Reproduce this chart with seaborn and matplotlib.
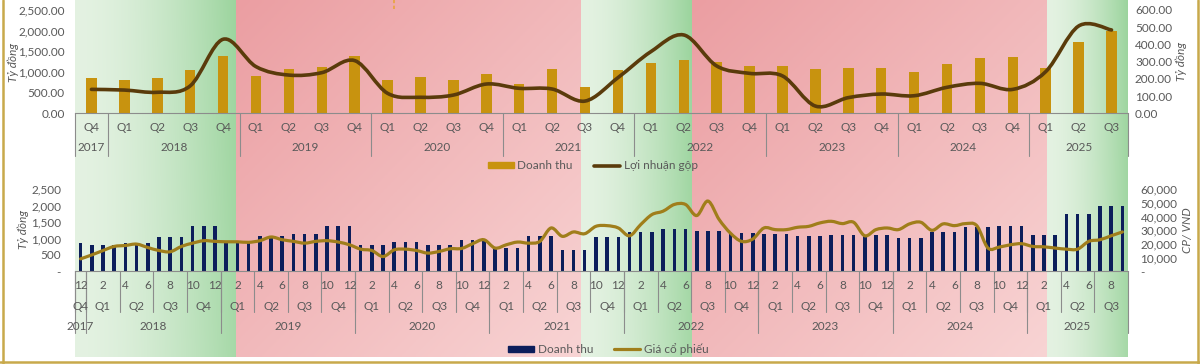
import numpy as np
import pandas as pd
import matplotlib
matplotlib.use("Agg")
import matplotlib.pyplot as plt
import seaborn as sns
from matplotlib.path import Path
from matplotlib.patches import PathPatch, Patch
from matplotlib.lines import Line2D
from matplotlib.ticker import FuncFormatter

sns.set_style("white")
plt.rcParams['font.family'] = ['Lato', 'DejaVu Sans']

# ---- quarterly data (top chart), Q4 2017 -> Q3 2025 ----
quarter_labels = ["Q4",
                  "Q1", "Q2", "Q3", "Q4", "Q1", "Q2", "Q3", "Q4",
                  "Q1", "Q2", "Q3", "Q4", "Q1", "Q2", "Q3", "Q4",
                  "Q1", "Q2", "Q3", "Q4", "Q1", "Q2", "Q3", "Q4",
                  "Q1", "Q2", "Q3", "Q4", "Q1", "Q2", "Q3"]
quarter_years = [2017] + [2018] * 4 + [2019] * 4 + [2020] * 4 + [2021] * 4 + \
                [2022] * 4 + [2023] * 4 + [2024] * 4 + [2025] * 3
revenue_q = [850,
             808, 865, 1050, 1390,
             905, 1068, 1131, 1390,
             808, 889, 808, 946,
             703, 1075, 646, 1050,
             1213, 1294, 1240, 1156,
             1148, 1075, 1092, 1100,
             1010, 1197, 1342, 1367,
             1100, 1735, 1998]
gross_profit_q = [139,
                  135, 122, 159, 430,
                  271, 222, 236, 306,
                  116, 93, 106, 170,
                  145, 141, 71, 207,
                  358, 455, 275, 232,
                  217, 42, 91, 112,
                  102, 151, 174, 139,
                  242, 507, 484]

# ---- monthly data (bottom chart), 12/2017 -> 09/2025 ----
months = pd.period_range("2017-12", "2025-09", freq="M")
revenue_m = [850,
             808, 808, 808, 865, 865, 865, 1050, 1050, 1050, 1390, 1390, 1390,
             905, 905, 905, 1068, 1068, 1068, 1131, 1131, 1131, 1390, 1390, 1390,
             808, 808, 808, 889, 889, 889, 808, 808, 808, 946, 946, 946,
             703, 703, 703, 1075, 1075, 1075, 646, 646, 646, 1050, 1050, 1050,
             1213, 1213, 1213, 1294, 1294, 1294, 1240, 1240, 1240, 1156, 1156, 1156,
             1148, 1148, 1148, 1075, 1075, 1075, 1092, 1092, 1092, 1100, 1100, 1100,
             1010, 1010, 1010, 1197, 1197, 1197, 1342, 1342, 1342, 1367, 1367, 1367,
             1100, 1100, 1100, 1735, 1735, 1735, 1998, 1998, 1998]
share_price = [9100,
               12000, 15200, 18200, 18900, 19900, 17400, 15200, 14300, 18200, 20600, 22400, 21900,
               21600, 21600, 21200, 22400, 25100, 23100, 21900, 20600, 21900, 22400, 21400, 19400,
               16200, 15200, 10800, 15700, 16200, 15200, 13300, 14500, 16500, 16700, 20200, 23100,
               17000, 19400, 21400, 20600, 21900, 31700, 25600, 28800, 27500, 32900, 33400, 31700,
               26000, 34200, 41500, 44000, 48900, 48900, 40800, 51400, 37900, 28000, 21900, 23600,
               31700, 30500, 30500, 32200, 32900, 35400, 36600, 34900, 35900, 26000, 30500, 31700,
               30500, 34700, 35900, 30000, 34700, 33400, 34900, 33400, 17000, 17700, 19400, 20200,
               18200, 17900, 17000, 16200, 16200, 21900, 23100, 26000, 28800]

# shaded market phases, in month positions (0 = 12/2017)
phases = [("up", -0.5, 13.9), ("down", 13.9, 44.7), ("up", 44.7, 54.6),
          ("down", 54.6, 86.3), ("up", 86.3, 93.5)]

GOLD = "#C8930F"
BROWN = "#5A3B0B"
NAVY = "#0C1E5B"
PRICE = "#A07E1B"
GREY = "#595959"
AXIS = "#8C8C8C"
FS = 8.5


def smooth_path(xs, ys):
    p = np.column_stack([xs, ys]).astype(float)
    ext = np.vstack([p[0], p, p[-1]])
    verts, codes = [p[0]], [Path.MOVETO]
    for i in range(len(p) - 1):
        p0, p1, p2, p3 = ext[i], ext[i + 1], ext[i + 2], ext[i + 3]
        verts += [p1 + (p2 - p0) / 6, p2 - (p3 - p1) / 6, p2]
        codes += [Path.CURVE4] * 3
    return Path(verts, codes)


fig = plt.figure(figsize=(12, 3.64), dpi=100)
L, W = 0.0625, 0.8775

# ---- gradient background ----
ax_bg = fig.add_axes([L, 7 / 364, W, 357 / 364])
ax_bg.set_xlim(-0.5, 93.5)
ax_bg.set_ylim(0, 1)
ax_bg.axis("off")
for kind, x0, x1 in phases:
    xf = np.linspace(0, 1, 200)[None, :]
    yd = np.linspace(0, 1, 100)[:, None]
    if kind == "up":
        t = (xf ** 1.6) * (1 - 0.15 * yd)
        a = np.array([228, 242, 226]) / 255
        b = np.array([155, 212, 157]) / 255
    else:
        t = 0.5 * xf + 0.5 * yd
        a = np.array([235, 158, 162]) / 255
        b = np.array([248, 212, 212]) / 255
    img = a + (b - a) * t[..., None]
    ax_bg.imshow(img, extent=(x0, x1, 0, 1), aspect="auto", origin="upper")
ax_bg.axvline(28, ymin=0.975, ymax=1, color="#E8A33D", lw=1.2, ls=(0, (2, 1.5)))

# ---- top chart ----
dq = pd.DataFrame({"period": [f"{y}-{q}" for y, q in zip(quarter_years, quarter_labels)],
                   "revenue": revenue_q, "gp": gross_profit_q})
ax1 = fig.add_axes([L, 1 - 113.3 / 364, W, 103.3 / 364])
ax1.patch.set_visible(False)
sns.barplot(data=dq, x="period", y="revenue", color=GOLD, saturation=1,
            width=0.32, errorbar=None, linewidth=0, ax=ax1)
ax1.set_xlim(-0.5, len(dq) - 0.5)
ax1.set_ylim(0, 2500)
ax1.set_yticks(np.arange(0, 2501, 500))
ax1.yaxis.set_major_formatter(FuncFormatter(lambda v, _: f"{v:,.2f}"))
ax1.set_xlabel("")
ax1.set_ylabel("")
ax1.set_xticks([])
ax1b = ax1.twinx()
ax1b.set_ylim(0, 600)
ax1b.set_yticks(np.arange(0, 601, 100))
ax1b.yaxis.set_major_formatter(FuncFormatter(lambda v, _: f"{v:.2f}"))
ax1b.add_patch(PathPatch(smooth_path(np.arange(len(dq)), dq["gp"]), fill=False,
                         edgecolor=BROWN, lw=2.6, capstyle="round"))
ax1.tick_params(axis="y", length=0, pad=7.5, labelsize=FS, labelcolor=GREY)
ax1b.tick_params(axis="y", length=0, pad=5, labelsize=FS, labelcolor=GREY)

tr = ax1.get_xaxis_transform()
for i, q in enumerate(dq["period"]):
    ax1.text(i, -0.135, quarter_labels[i], transform=tr, ha="center", va="center",
             fontsize=FS, color=GREY)
years = np.array(quarter_years)
for y in np.unique(years):
    idx = np.where(years == y)[0]
    ax1.text(idx.mean(), -0.33, str(y), transform=tr, ha="center", va="center",
             fontsize=FS, color=GREY)
    ax1.plot([idx[0] - 0.5] * 2, [0, -0.41], transform=tr, clip_on=False, color=AXIS, lw=0.8)
ax1.plot([len(dq) - 0.5] * 2, [0, -0.41], transform=tr, clip_on=False, color=AXIS, lw=0.8)

# ---- bottom chart ----
dm = pd.DataFrame({"period": months.astype(str), "revenue": revenue_m, "price": share_price})
ax2 = fig.add_axes([L, 1 - 271.3 / 364, W, 82 / 364])
ax2.patch.set_visible(False)
sns.barplot(data=dm, x="period", y="revenue", color=NAVY, saturation=1,
            width=0.32, errorbar=None, linewidth=0, ax=ax2)
ax2.set_xlim(-0.5, len(dm) - 0.5)
ax2.set_ylim(0, 2500)
ax2.set_yticks(np.arange(0, 2501, 500))
ax2.yaxis.set_major_formatter(FuncFormatter(lambda v, _: "-" if v == 0 else f"{v:,.0f}"))
ax2.set_xlabel("")
ax2.set_ylabel("")
ax2.set_xticks([])
ax2b = ax2.twinx()
ax2b.set_ylim(0, 60000)
ax2b.set_yticks(np.arange(0, 60001, 10000))
ax2b.yaxis.set_major_formatter(FuncFormatter(lambda v, _: "-" if v == 0 else f"{v:,.0f}"))
ax2b.add_patch(PathPatch(smooth_path(np.arange(len(dm)), dm["price"]), fill=False,
                         edgecolor=PRICE, lw=2.3, capstyle="round"))
ax2.tick_params(axis="y", length=0, pad=10, labelsize=FS, labelcolor=GREY)
ax2b.tick_params(axis="y", length=0, pad=9, labelsize=FS, labelcolor=GREY)

tr2 = ax2.get_xaxis_transform()
mnum = np.array([p.month for p in months])
myear = np.array([p.year for p in months])
mq = (mnum - 1) // 3 + 1
for i in range(0, len(dm), 2):
    ax2.text(i, -0.17, str(mnum[i]), transform=tr2, ha="center", va="center",
             fontsize=FS, color=GREY)
keys = list(zip(myear, mq))
for k in dict.fromkeys(keys):
    idx = [i for i, kk in enumerate(keys) if kk == k]
    ax2.text(np.mean(idx), -0.43, f"Q{k[1]}", transform=tr2, ha="center", va="center",
             fontsize=FS, color=GREY)
    ax2.plot([idx[0] - 0.5] * 2, [0, -0.5], transform=tr2, clip_on=False, color=AXIS, lw=0.8)
for y in np.unique(myear):
    idx = np.where(myear == y)[0]
    ax2.text(idx.mean(), -0.67, str(y), transform=tr2, ha="center", va="center",
             fontsize=FS, color=GREY)
    ax2.plot([idx[0] - 0.5] * 2, [0, -0.75], transform=tr2, clip_on=False, color=AXIS, lw=0.8)
ax2.plot([len(dm) - 0.5] * 2, [0, -0.75], transform=tr2, clip_on=False, color=AXIS, lw=0.8)

for a in (ax1, ax1b, ax2, ax2b):
    for s in ("top", "left", "right"):
        a.spines[s].set_visible(False)
    a.spines["bottom"].set_visible(a in (ax1, ax2))
    a.spines["bottom"].set_color(AXIS)
    a.spines["bottom"].set_linewidth(0.8)

# axis titles
fig.text(13 / 1200, 1 - 62 / 364, "Tỷ đồng", rotation=90, style="italic", ha="center",
         va="center", fontsize=FS, color=GREY)
fig.text(1181 / 1200, 1 - 61 / 364, "Tỷ đồng", rotation=90, style="italic", ha="center",
         va="center", fontsize=FS, color=GREY)
fig.text(23 / 1200, 1 - 229 / 364, "Tỷ đồng", rotation=90, style="italic", ha="center",
         va="center", fontsize=FS, color=GREY)
fig.text(1188 / 1200, 1 - 230 / 364, "CP/ VND", rotation=90, style="italic", ha="center",
         va="center", fontsize=FS, color=GREY)

# legends
fig.legend(handles=[Patch(color=GOLD), Line2D([], [], color=BROWN, lw=2.6)],
           labels=["Doanh thu", "Lợi nhuận gộp"], loc="center", bbox_to_anchor=(0.494, 0.544),
           ncol=2, frameon=False, fontsize=FS, labelcolor=GREY, handlelength=2.2,
           handleheight=0.45, columnspacing=1.8, handletextpad=0.3)
fig.legend(handles=[Patch(color=NAVY), Line2D([], [], color=PRICE, lw=2.3)],
           labels=["Doanh thu", "Giá cổ phiếu"], loc="center", bbox_to_anchor=(0.507, 0.041),
           ncol=2, frameon=False, fontsize=FS, labelcolor=GREY, handlelength=2.2,
           handleheight=0.45, columnspacing=1.8, handletextpad=0.3)

# outer frame
for xs, ys in [([2.5 / 1200] * 2, [0, 1]), ([1197.5 / 1200] * 2, [0, 1]),
               ([0, 1], [2.5 / 364] * 2)]:
    fig.add_artist(Line2D(xs, ys, color="#C8A94B", lw=1.8))

fig.savefig("out.png", dpi=100)
